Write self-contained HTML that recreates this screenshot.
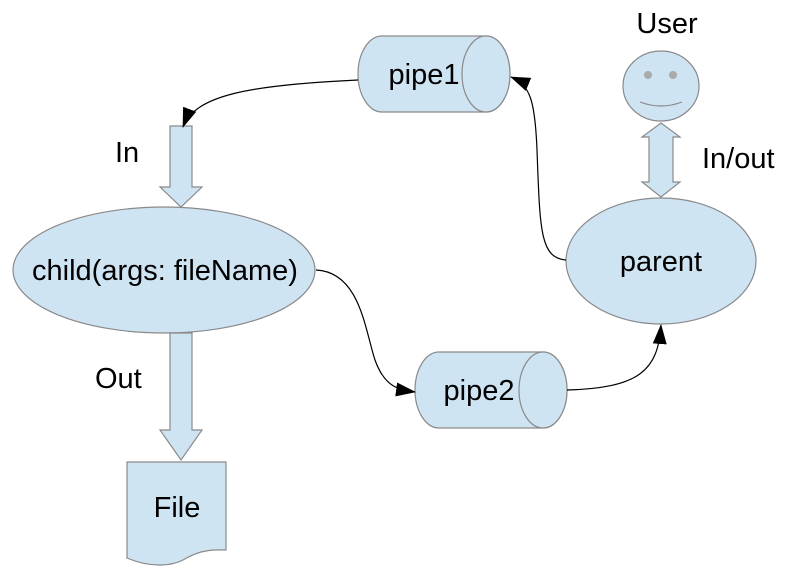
<!DOCTYPE html>
<html><head><meta charset="utf-8"><style>html,body{margin:0;padding:0;background:#fff}svg{display:block}text{font-family:"Liberation Sans",sans-serif;fill:#000}</style></head>
<body>
<svg width="787" height="570" viewBox="0 0 787 570" xmlns="http://www.w3.org/2000/svg">
<defs><marker id="a" markerWidth="20" markerHeight="14" refX="19" refY="7" orient="auto" markerUnits="userSpaceOnUse"><path d="M0,0 L20,7 L0,14 z" fill="#000"/></marker></defs>
<g fill="#cfe4f3" stroke="#8a8a8a" stroke-width="1.2">
<path d="M382,36 H486 A24,38 0 0 1 486,112 H382 A24,38 0 0 1 382,36 z"/>
<ellipse cx="486" cy="74" rx="24" ry="38"/>
<path d="M439,352 H543 A24,38 0 0 1 543,428 H439 A24,38 0 0 1 439,352 z"/>
<ellipse cx="543" cy="390" rx="24" ry="38"/>
<ellipse cx="661" cy="86" rx="38" ry="35"/>
<path d="M661,123 L680,137 L673,137 L673,182 L680,182 L661,197 L642,182 L649,182 L649,137 L642,137 z"/>
<ellipse cx="661" cy="261" rx="95" ry="63"/>
<path d="M170,126 H192 V187 H202 L181,207 L160,187 H170 z"/>
<ellipse cx="164" cy="270" rx="151" ry="63"/>
<path d="M170,333 H192 V430 H202 L181,460 L160,430 H170 z"/>
<path d="M127,462 H226 V550 C205,549 195,553 183,560 C172,566 150,568 127,558 z"/>
</g>
<circle cx="648" cy="75" r="4" fill="#aaa"/><circle cx="673" cy="75" r="4" fill="#aaa"/>
<path d="M640,102 Q661,110 682,102" fill="none" stroke="#888" stroke-width="1.2"/>
<g fill="none" stroke="#000" stroke-width="1.2">
<path d="M566,260 C540,258 540,230 537,150 C535,100 530,85 511,77" marker-end="url(#a)"/>
<path d="M358,80 C250,85 195,95 183,127" marker-end="url(#a)"/>
<path d="M316,270 C360,272 365,330 375,360 C385,388 400,390 415,392" marker-end="url(#a)"/>
<path d="M567,390 C640,388 658,370 661,325" marker-end="url(#a)"/>
</g>
<g font-size="29">
<text x="424" y="84" text-anchor="middle">pipe1</text>
<text x="479" y="400" text-anchor="middle">pipe2</text>
<text x="667" y="33" text-anchor="middle">User</text>
<text x="702" y="168">In/out</text>
<text x="661" y="271" text-anchor="middle">parent</text>
<text x="115" y="162">In</text>
<text x="165" y="280" text-anchor="middle">child(args: fileName)</text>
<text x="95" y="388">Out</text>
<text x="177" y="517" text-anchor="middle">File</text>
</g>
</svg>
</body></html>
